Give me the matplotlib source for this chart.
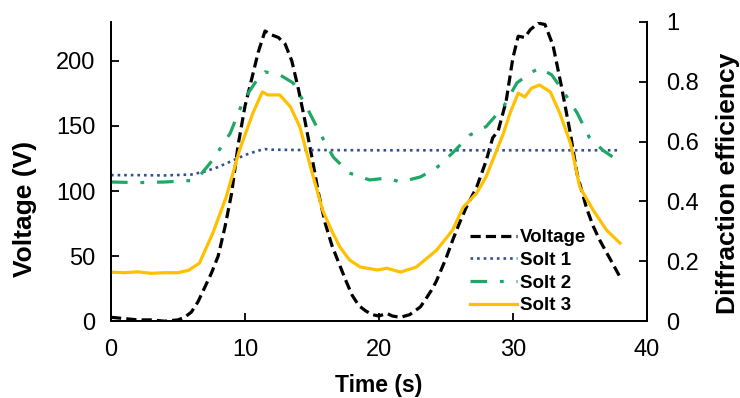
import matplotlib
matplotlib.use("Agg")
import matplotlib.pyplot as plt

plt.rcParams['font.family'] = ['Liberation Sans', 'DejaVu Sans']

# ---- data ----
t_volt = [0, 1, 2, 3, 4, 5, 5.5, 6, 6.5, 7, 7.5, 8, 8.5, 9, 9.5, 10, 10.5, 11, 11.5, 12,
          12.5, 13, 13.5, 14, 14.5, 15, 15.5, 16, 16.5, 17, 17.5, 18, 18.5, 19, 19.5, 20,
          20.6, 21, 21.6, 22.3, 23.1, 23.5, 24, 24.3, 25, 25.5, 26, 26.5, 27, 27.3, 28,
          28.5, 28.9, 29.5, 30, 30.4, 30.9, 31.3, 31.9, 32.4, 33, 33.6, 34.3, 34.8, 35.5,
          36, 36.5, 37.2, 38]
voltage = [3, 2, 1, 1, 0, 1, 3, 7, 15, 26, 37, 50, 72, 98, 136, 165, 186, 207, 223, 220,
           218, 213, 200, 178, 153, 126, 98, 75, 58, 45, 32, 20, 12, 8, 5, 4,
           6, 4, 3, 5, 11, 17, 25, 31, 48, 62, 75, 87, 97, 103, 123,
           141, 146, 169, 202, 219, 218, 224, 229, 228, 212, 182, 144, 113, 87,
           73, 62, 49, 34]

t_s1 = [0, 2, 4, 6, 7, 8, 9, 10, 11, 11.5, 12, 14, 20, 30, 38]
solt1 = [0.488, 0.488, 0.487, 0.49, 0.5, 0.515, 0.535, 0.555, 0.57, 0.575, 0.573, 0.572,
         0.571, 0.571, 0.571]

t_s2 = [0, 2, 4, 6, 6.7, 7.4, 8.2, 8.9, 9.9, 10.9, 11.5, 12.6, 13.6, 14.6, 15.6, 16.6,
        17.8, 19.3, 20.6, 21.6, 23.1, 24.3, 25.5, 26.8, 28, 29.3, 30.3, 31.3, 32, 32.9,
        33.7, 34.8, 35.7, 36.7, 37.8]
solt2 = [0.465, 0.463, 0.465, 0.47, 0.49, 0.528, 0.58, 0.628, 0.739, 0.806, 0.833, 0.823,
         0.796, 0.716, 0.628, 0.548, 0.495, 0.472, 0.478, 0.465, 0.482, 0.512, 0.562, 0.622,
         0.65, 0.716, 0.796, 0.829, 0.846, 0.823, 0.773, 0.696, 0.615, 0.572, 0.538]

t_s3 = [0, 1, 2, 3, 4, 5, 5.8, 6.6, 7.6, 8.6, 9.6, 10.6, 11.3, 11.7, 12.6, 13.4, 14.1,
        14.9, 15.8, 16.5, 17.1, 17.8, 18.6, 19.9, 20.6, 21.6, 22.8, 24.3, 25.5, 26.3, 27.3,
        28, 28.5, 29.3, 29.8, 30.4, 30.9, 31.4, 32, 32.8, 33.5, 34.3, 35, 36, 37, 38]
solt3 = [0.164, 0.162, 0.165, 0.16, 0.162, 0.162, 0.17, 0.194, 0.294, 0.415, 0.572, 0.696,
         0.766, 0.756, 0.756, 0.716, 0.649, 0.515, 0.371, 0.3, 0.247, 0.205, 0.181, 0.171,
         0.177, 0.164, 0.181, 0.237, 0.304, 0.381, 0.428, 0.482, 0.538, 0.628, 0.696,
         0.762, 0.749, 0.779, 0.789, 0.766, 0.696, 0.595, 0.448, 0.371, 0.304, 0.261]

x_ticks = [0, 10, 20, 30, 40]
yl_ticks = [0, 50, 100, 150, 200]
yr_ticks = [0, 0.2, 0.4, 0.6, 0.8, 1]
yr_labels = ['0', '0.2', '0.4', '0.6', '0.8', '1']

# ---- figure ----
fig = plt.figure(figsize=(7.4, 3.98), dpi=100)
ax1 = fig.add_axes([0.150, 0.193, 0.724, 0.752])
ax2 = ax1.twinx()

l0, = ax1.plot(t_volt, voltage, color='black', lw=2.3, ls=(0, (3.2, 1.6)), label='Voltage')
l1, = ax2.plot(t_s1, solt1, color='#2F528F', lw=1.9, ls=(0, (1, 1.5)), label='Solt 1')
l2, = ax2.plot(t_s2, solt2, color='#1FA765', lw=2.3, ls=(0, (5.2, 4, 1.2, 4)), label='Solt 2')
l3, = ax2.plot(t_s3, solt3, color='#FFC000', lw=2.3, label='Solt 3')

ax1.set_xlim(0, 40)
ax1.set_ylim(0, 230)
ax2.set_ylim(0, 1)
ax1.set_xticks(x_ticks)
ax1.set_yticks(yl_ticks)
ax2.set_yticks(yr_ticks)
ax2.set_yticklabels(yr_labels)

for ax in (ax1, ax2):
    ax.spines['top'].set_visible(False)
    for s in ('left', 'right', 'bottom'):
        ax.spines[s].set_linewidth(1.3)

ax1.tick_params(axis='both', direction='in', length=6, width=1.3, labelsize=17)
ax1.tick_params(axis='y', pad=11)
ax1.tick_params(axis='x', pad=13)
ax2.tick_params(axis='y', direction='in', length=6, width=1.3, labelsize=17, pad=14)

ax1.set_xlabel('Time (s)', fontsize=16.5, fontweight='bold', labelpad=9)
ax1.set_ylabel('Voltage (V)', fontsize=19, fontweight='bold', va='center')
ax2.set_ylabel('Diffraction efficiency', fontsize=19, fontweight='bold', va='center')
ax1.yaxis.set_label_coords(-0.16, 0.375)
ax2.yaxis.set_label_coords(1.151, 0.46)

leg = ax2.legend(handles=[l0, l1, l2, l3], loc='upper left',
                 bbox_to_anchor=(0.670, 0.308), frameon=False,
                 prop={'weight': 'bold', 'size': 13.5}, handlelength=2.5,
                 handletextpad=0.15, labelspacing=0.3, borderaxespad=0, borderpad=0)

fig.savefig('out.png', dpi=100)
